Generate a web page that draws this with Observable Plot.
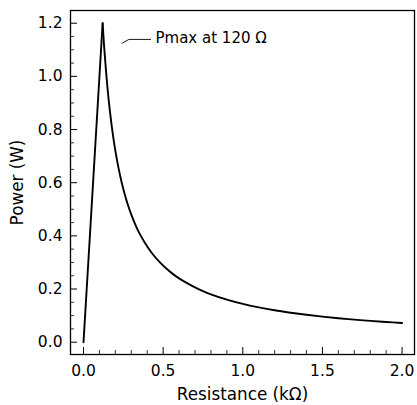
<!DOCTYPE html>
<html>
<head>
<meta charset="utf-8">
<script src="https://cdn.jsdelivr.net/npm/d3@7"></script>
<script src="https://cdn.jsdelivr.net/npm/@observablehq/plot@0.6"></script>
<style>
  html, body { margin: 0; padding: 0; background: #fff; }
  svg { display: block; }
</style>
</head>
<body>
<div id="chart"></div>
<script>
// Resistance (kΩ) and power (W)
const resistance = [0, 0.12, 0.13, 0.14, 0.15, 0.16, 0.18, 0.20, 0.22, 0.24, 0.26, 0.28, 0.30, 0.33, 0.36, 0.40, 0.44, 0.48, 0.52, 0.56, 0.60, 0.65, 0.70, 0.75, 0.80, 0.90, 1.00, 1.10, 1.20, 1.30, 1.40, 1.50, 1.60, 1.70, 1.80, 1.90, 2.00];
const power      = [0, 1.20, 1.108, 1.029, 0.96, 0.90, 0.80, 0.72, 0.655, 0.60, 0.554, 0.514, 0.48, 0.436, 0.40, 0.36, 0.327, 0.30, 0.277, 0.257, 0.24, 0.222, 0.206, 0.192, 0.18, 0.16, 0.144, 0.131, 0.12, 0.111, 0.103, 0.096, 0.09, 0.085, 0.08, 0.076, 0.072];

const xTicks = [0, 0.5, 1.0, 1.5, 2.0];
const yTicks = [0, 0.2, 0.4, 0.6, 0.8, 1.0, 1.2];
const xLabel = "Resistance (kΩ)";
const yLabel = "Power (W)";
const annotationText = "Pmax at 120 Ω";

const data = resistance.map((r, i) => ({r, p: power[i]}));
const peakIndex = d3.maxIndex(power);
const rising = data.slice(0, peakIndex + 1);
const falling = data.slice(peakIndex);

const W = 417, H = 405;
const mL = 70, mR = 3, mT = 10, mB = 51;
const frameW = W - mL - mR, frameH = H - mT - mB;
const font = "DejaVu Sans, sans-serif";

const xMinor = d3.range(0, 20.5, 1).map(d => d / 10).filter(d => !xTicks.some(t => Math.abs(t - d) < 1e-9));
const yMinor = d3.range(0, 24.5, 1).map(d => d / 20).filter(d => !yTicks.some(t => Math.abs(t - d) < 1e-9));

// leader line of the annotation (data coordinates)
const leader = [{x: 0.243, y: 1.125}, {x: 0.285, y: 1.139}, {x: 0.421, y: 1.139}];

const chart = Plot.plot({
  width: W, height: H,
  marginLeft: mL, marginRight: mR, marginTop: mT, marginBottom: mB,
  style: {fontFamily: font, fontSize: "15.5px", color: "black", background: "white"},
  x: {domain: [-0.0817, 2.078]},
  y: {domain: [-0.0463, 1.2478]},
  marks: [
    Plot.line(rising, {x: "r", y: "p", stroke: "black", strokeWidth: 1.9, strokeLinejoin: "miter"}),
    Plot.line(falling, {x: "r", y: "p", stroke: "black", strokeWidth: 1.9, curve: "catmull-rom"}),
    Plot.line(leader, {x: "x", y: "y", stroke: "black", strokeWidth: 0.9}),
    Plot.text([annotationText], {x: 0.452, y: 1.144, text: d => d, textAnchor: "start", fontSize: 15, fill: "black"}),
    Plot.tickX(xTicks, {x: d => d, insetTop: frameH - 7, stroke: "black", strokeWidth: 1}),
    Plot.tickX(xMinor, {x: d => d, insetTop: frameH - 4, stroke: "black", strokeWidth: 0.8}),
    Plot.tickY(yTicks, {y: d => d, insetRight: frameW - 7, stroke: "black", strokeWidth: 1}),
    Plot.tickY(yMinor, {y: d => d, insetRight: frameW - 4, stroke: "black", strokeWidth: 0.8}),
    Plot.axisX({ticks: xTicks, tickFormat: d3.format(".1f"), tickSize: 0, tickPadding: 10, label: null, fontSize: 15.5}),
    Plot.axisY({ticks: yTicks, tickFormat: d3.format(".1f"), tickSize: 0, tickPadding: 8, label: null, fontSize: 15.5}),
    Plot.text([xLabel], {frameAnchor: "bottom", dy: 34, lineAnchor: "top", textAnchor: "middle", text: d => d, fontSize: 16.8, fill: "black"}),
    Plot.text([yLabel], {frameAnchor: "left", dx: -53, rotate: -90, textAnchor: "middle", text: d => d, fontSize: 16.8, fill: "black"}),
    Plot.frame({stroke: "black", strokeWidth: 1.3})
  ]
});
document.getElementById("chart").append(chart);
</script>
</body>
</html>
